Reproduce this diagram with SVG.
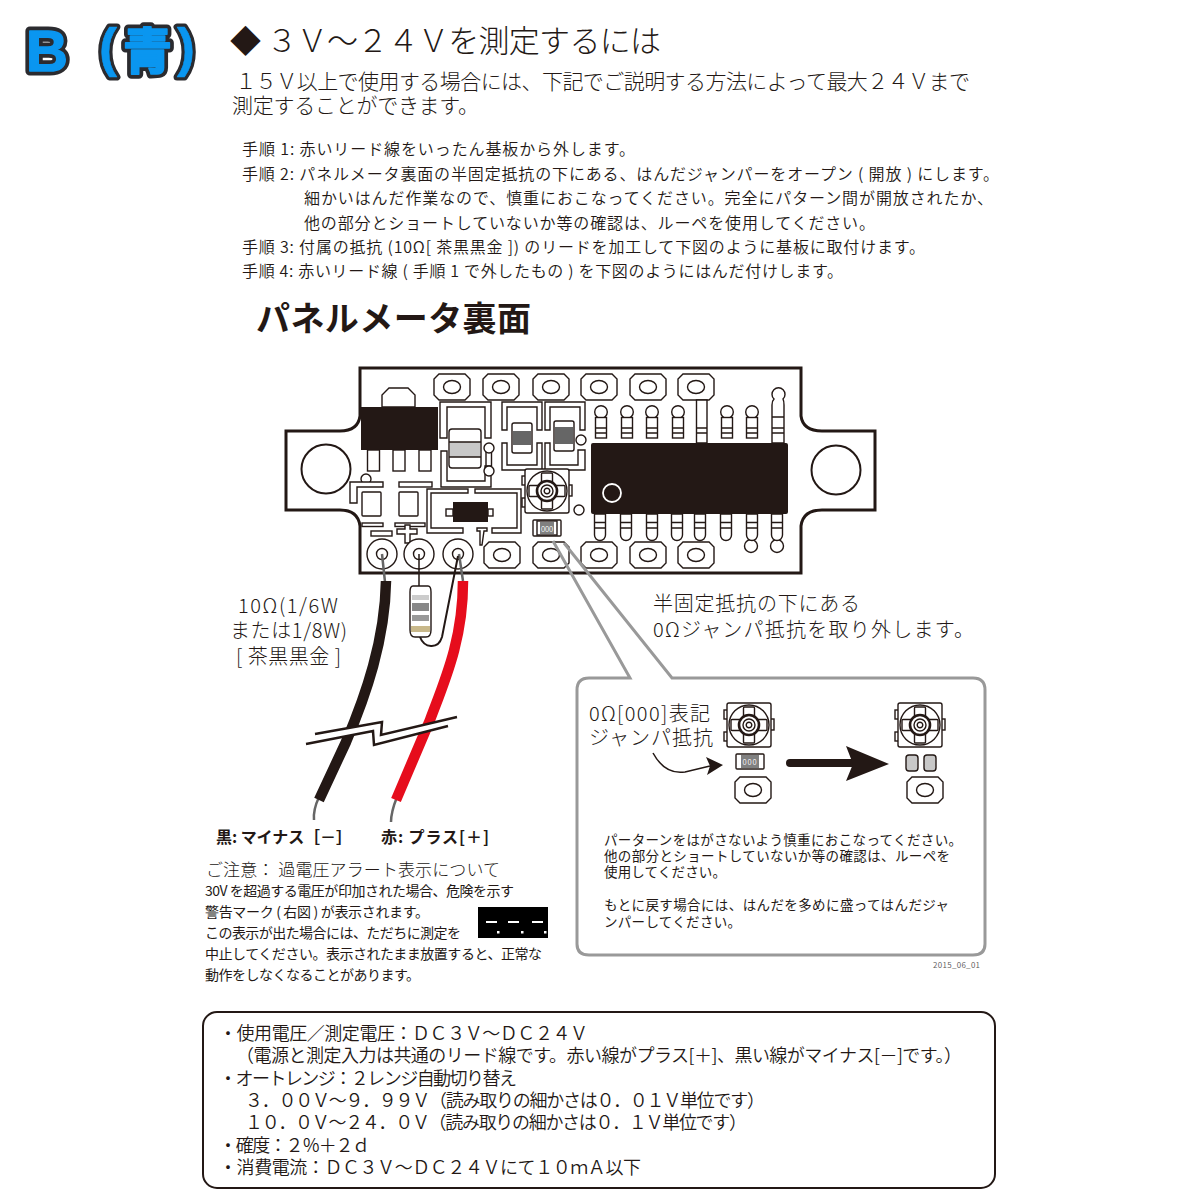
<svg xmlns="http://www.w3.org/2000/svg" xmlns:xlink="http://www.w3.org/1999/xlink" width="1200" height="1200" viewBox="0 0 1200 1200">
<style>
text{font-family:"Noto Sans CJK JP","Liberation Sans",sans-serif;fill:#231815;font-size:16px;font-weight:350}
.t{font-weight:300}
.o{fill:#fff;stroke:#231815;stroke-width:1.4}
.k{fill:#231815}
.b{font-weight:700}
.h{font-size:21px;font-weight:300}.m{font-size:20px;font-weight:300}.s{font-size:13.5px;font-weight:400}.n{font-size:14px;font-weight:400}.f{font-size:18px}
.bo{fill:#2b2b2f;stroke:#2b2b2f;stroke-linejoin:round;font-weight:900}
.bl{fill:#0a96f0;stroke:#0a96f0;stroke-width:1.6;stroke-linejoin:round;font-weight:900}
.la{font-family:"Liberation Sans",sans-serif}
</style>
<defs>
<g id="pad"><path class="o" d="M-13,-13H13L18,-8V8L13,13H-13L-18,8V-8Z"/><ellipse class="o" rx="8.5" ry="6.5"/></g>
<g id="tpin"><circle class="o" r="6.3"/><rect class="o" x="-5.5" y="5.500" width="11" height="20.500"/><path class="o" d="M-5.5,16H5.5M-5.5,21H5.5"/></g>
<g id="bpin"><path class="o" d="M-5.5,0H5.5V21A5.5,5.5 0 0 1 -5.5,21Z"/><path class="o" d="M-5.5,8.500H5.5M-5.5,14H5.5"/></g>
<g id="trim">
<rect class="o" x="-25" y="-15" width="4" height="9"/><rect class="o" x="-25" y="7" width="4" height="9"/><rect class="o" x="21" y="-6" width="4" height="11"/>
<rect class="o" x="-22" y="-22" width="44" height="44" rx="2"/>
<circle class="o" r="20"/>
<rect class="o" x="-5.500" y="-18" width="11" height="36" rx="1"/><rect class="o" x="-18" y="-5.500" width="36" height="11" rx="1"/>
<circle cx="0" cy="0" r="10" fill="#fff" stroke="#231815" stroke-width="2.600"/><circle class="o" r="6"/><circle class="o" r="2.800"/>
</g>
<g id="via"><circle class="o" r="5"/></g>
</defs>

<g id="badge">
<text class="bo la" x="26" y="71" style="font-size:58px;stroke-width:9">B</text>
<text class="bl la" x="26" y="71" style="font-size:58px">B</text>
<text class="bo la" x="99" y="66" style="font-size:54px;stroke-width:7">(</text>
<text class="bl la" x="99" y="66" style="font-size:54px;stroke-width:.5">(</text>
<text class="bo" x="123" y="69" style="font-size:49px;stroke-width:9">青</text>
<text class="bl" x="123" y="69" style="font-size:49px">青</text>
<text class="bo la" x="177" y="66" style="font-size:54px;stroke-width:7">)</text>
<text class="bl la" x="177" y="66" style="font-size:54px;stroke-width:.5">)</text>
</g>

<g id="intro">
<text class="t" x="230" y="52" style="font-size:31px" textLength="431">◆ ３Ｖ～２４Ｖを測定するには</text>
<text class="h" x="215" y="89" textLength="755">　１５Ｖ以上で使用する場合には、下記でご説明する方法によって最大２４Ｖまで</text>
<text class="h" x="232" y="113" textLength="247">測定することができます。</text>
<text x="242" y="155" textLength="393">手順 1: 赤いリード線をいったん基板から外します。</text>
<text x="242" y="180" textLength="757">手順 2: パネルメータ裏面の半固定抵抗の下にある、はんだジャンパーをオープン ( 開放 ) にします。</text>
<text x="304" y="204" textLength="689">細かいはんだ作業なので、慎重におこなってください。完全にパターン間が開放されたか、</text>
<text x="304" y="229" textLength="571">他の部分とショートしていないか等の確認は、ルーペを使用してください。</text>
<text x="242" y="253" textLength="683">手順 3: 付属の抵抗 (10Ω[ 茶黒黒金 ]) のリードを加工して下図のように基板に取付けます。</text>
<text x="242" y="277" textLength="601">手順 4: 赤いリード線 ( 手順 1 で外したもの ) を下図のようにはんだ付けします。</text>
<text class="b" x="256" y="331" style="font-size:34px" textLength="275">パネルメータ裏面</text>
</g>

<g id="board">
<path d="M360,368H801V416Q803,431 822,431H875V510H822Q803,510 801,526V573H360V526Q358,510 340,510H286V431H340Q358,431 360,416Z" fill="#fff" stroke="#231815" stroke-width="3"/>
<circle cx="326" cy="469" r="24.5" fill="#fff" stroke="#231815" stroke-width="2"/>
<circle cx="836" cy="470" r="24.5" fill="#fff" stroke="#231815" stroke-width="2"/>
<use xlink:href="#pad" x="452" y="387"/><use xlink:href="#pad" x="501" y="387"/><use xlink:href="#pad" x="551" y="387"/><use xlink:href="#pad" x="599" y="387"/><use xlink:href="#pad" x="648" y="387"/><use xlink:href="#pad" x="696" y="387"/>
<use xlink:href="#pad" x="502" y="555"/><use xlink:href="#pad" x="551" y="555"/><use xlink:href="#pad" x="599" y="555"/><use xlink:href="#pad" x="648" y="555"/><use xlink:href="#pad" x="696" y="555"/>
<path class="o" d="M382,407V395L389,388H408L415,395V407Z"/>
<rect class="k" x="361" y="407" width="77" height="43"/>
<rect class="o" x="367.500" y="450" width="12" height="21"/><rect class="o" x="393" y="450" width="12" height="21"/><rect class="o" x="419" y="450" width="12" height="21"/>
<path class="o" d="M440,402H491V438H485V407H447V438H440Z"/>
<path class="o" d="M441,451H447V481H485V466H491V487H441Z"/>
<rect class="o" x="449" y="429" width="32" height="39" rx="3"/>
<rect x="450" y="442" width="30" height="15" fill="#c8c8c8"/><path class="o" d="M449,442H481M449,457H481"/>
<path class="o" d="M486,452V468M491.500,452V468"/>
<use xlink:href="#via" x="489" y="448"/><use xlink:href="#via" x="489" y="471"/>
<path class="o" d="M502,402H542V430H537V407H507V430H502Z"/>
<path class="o" d="M502,443H507V465H537V443H542V470H502Z"/>
<path class="o" d="M545,402H585V430H580V407H550V430H545Z"/>
<path class="o" d="M545,443H550V465H578V450H585V470H545Z"/>
<rect class="o" x="512" y="423" width="20" height="30" rx="2"/><rect x="513" y="431" width="18" height="14" fill="#666"/>
<rect class="o" x="554" y="421" width="20" height="30" rx="2"/><rect x="555" y="427" width="18" height="17" fill="#666"/>
<use xlink:href="#via" x="581" y="440"/>
<use xlink:href="#trim" x="547" y="491"/>
<use xlink:href="#via" x="579" y="510"/>
<use xlink:href="#via" x="366" y="479"/>
<path class="o" d="M350,482H383V487H357V503H350Z"/>
<rect class="o" x="362" y="492" width="19" height="24" rx="1"/><rect class="o" x="399" y="492" width="19" height="24" rx="1"/>
<rect class="o" x="399" y="482" width="33" height="5"/>
<rect class="o" x="362" y="523" width="21" height="3.500"/><rect class="o" x="395" y="523" width="30" height="3.500"/>
<rect class="o" x="371" y="531" width="21" height="5"/>
<path class="o" d="M405,529V525H410V529H417V534H410V543H405V534H397V529Z"/>
<path class="o" d="M427,489H468V493H431V528H463V533H427Z"/>
<path class="o" d="M475,489H521V533H492V528H517V493H475Z"/>
<rect class="o" x="446" y="509" width="7" height="7"/><rect class="o" x="488" y="509" width="5" height="7"/>
<rect class="k" x="453" y="502" width="35" height="20"/>
<path class="o" d="M477,528H487V531H484L482,545L480,545L480,531H477Z"/>
<rect class="o" x="533" y="520" width="28" height="16" rx="1"/><rect class="o" x="537" y="521" width="20" height="14" fill="#888"/>
<rect x="540" y="522" width="14" height="12" fill="#808080"/><text x="541" y="531.500" style="font-size:7.500px;fill:#fff" textLength="12">000</text>
<use xlink:href="#tpin" x="601" y="412"/><use xlink:href="#tpin" x="627" y="412"/><use xlink:href="#tpin" x="652" y="412"/><use xlink:href="#tpin" x="678" y="412"/><use xlink:href="#tpin" x="727" y="412"/><use xlink:href="#tpin" x="752" y="412"/>
<path class="o" d="M696.500,400H707V443H696.500ZM696.500,428H707M696.500,433H707"/>
<path class="o" d="M772,417V405Q772,401 774,399A6.500,6.500 0 1 1 783,399Q784,401 784,405V417ZM772,417H784V443H772ZM772,428H784M772,433H784"/>
<rect class="k" x="591" y="443" width="197" height="71" rx="2"/>
<circle cx="612" cy="493" r="9" fill="#231815" stroke="#fff" stroke-width="1.800"/>
<circle class="o" cx="751" cy="546" r="6.500"/><circle class="o" cx="777" cy="546" r="6.500"/>
<use xlink:href="#bpin" x="600" y="514"/><use xlink:href="#bpin" x="626" y="514"/><use xlink:href="#bpin" x="652" y="514"/><use xlink:href="#bpin" x="677" y="514"/><use xlink:href="#bpin" x="700" y="514"/><use xlink:href="#bpin" x="726" y="514"/><use xlink:href="#bpin" x="752" y="514"/><use xlink:href="#bpin" x="777" y="514"/>
<circle class="o" cx="382" cy="554" r="15"/><circle class="o" cx="382" cy="554" r="5.500"/>
<circle class="o" cx="419" cy="554" r="15"/><circle class="o" cx="419" cy="554" r="5.500"/>
<circle class="o" cx="458" cy="554" r="15"/><circle class="o" cx="458" cy="554" r="5.500"/>
</g>

<g id="connectors" fill="none">
<path d="M382,554L385,582M463,581L459,554" stroke="#666" stroke-width="2.500"/>
<path d="M419,554V587" stroke="#231815" stroke-width="1.500"/>
<path d="M420,637C424,648 438,650 442,637L458,556" stroke="#231815" stroke-width="2"/>
<path d="M319,797Q313,810 314,820M397,797Q391,812 391,822" stroke="#666" stroke-width="2.500"/>
<path d="M386,581C385,640 366,695 346,742L319,800" stroke="#231815" stroke-width="10.500"/>
<path d="M463,581C463,640 445,680 430,720L396,800" stroke="#e60d1c" stroke-width="10.500"/>
</g>

<g id="resistor">
<path class="o" d="M413,586H428Q431,586 431,592V630Q431,637 426,637H415Q410,637 410,630V592Q410,586 413,586Z"/>
<rect x="412" y="595" width="17" height="5" fill="#ccc"/><rect x="412" y="603" width="17" height="8" fill="#888"/><rect x="412" y="615" width="17" height="6" fill="#999"/><rect x="411" y="626" width="19" height="6" fill="#c8b88a"/>
</g>

<g id="break">
<path d="M315,734L382,722L381,735L457,717L448,726L374,745L373,731L306,744Z" fill="#fff"/>
<path d="M315,734L382,722L381,735L457,717M306,744L373,731L374,745L448,726" fill="none" stroke="#231815" stroke-width="2.500"/>
</g>

<g id="callout">
<rect x="577" y="678" width="408" height="277" rx="12" fill="#fff"/>
<path d="M553,541L630,678H589Q577,678 577,690V944Q577,955 589,955H973Q985,955 985,944V690Q985,678 973,678H672L564,543" fill="none" stroke="#999" stroke-width="3"/>
</g>

<g id="jumper">
<use xlink:href="#trim" x="749" y="725"/><use xlink:href="#trim" x="920" y="725"/>
<rect class="o" x="736" y="754" width="28" height="15" rx="1"/><rect x="741" y="755" width="18" height="13" fill="#808080"/><text x="742.500" y="765" style="font-size:7.500px;fill:#fff" textLength="14">000</text>
<rect class="o" x="906" y="755" width="12" height="16" rx="3" style="fill:#c8c8c8"/><rect class="o" x="924" y="755" width="12" height="16" rx="3" style="fill:#c8c8c8"/>
<use xlink:href="#pad" x="753" y="790"/><use xlink:href="#pad" x="925" y="790"/>
<path d="M790,763H852" stroke="#231815" stroke-width="8" stroke-linecap="round"/>
<path class="k" d="M846,746L889,764L846,781L853,764Z"/>
<path d="M653,753Q665,775 685,772L710,766" fill="none" stroke="#231815" stroke-width="1.500"/>
<path class="k" d="M706,757L723,765L707,775L710,766Z"/>
</g>

<g id="labels">
<text class="m" x="238" y="613" textLength="100">10Ω(1/6W</text>
<text class="m" x="230" y="638" textLength="117">または1/8W)</text>
<text class="m" x="236" y="664" textLength="105">[ 茶黒黒金 ]</text>
<text class="m" x="653" y="611" textLength="207">半固定抵抗の下にある</text>
<text class="m" x="653" y="637" textLength="321">0Ωジャンパ抵抗を取り外します。</text>
<text class="m" x="589" y="721" textLength="121">0Ω[000]表記</text>
<text class="m" x="589" y="745" textLength="124">ジャンパ抵抗</text>
<text class="b" x="216" y="843" textLength="136">黒: マイナス［－］</text>
<text class="b" x="381" y="843" textLength="108">赤: プラス[＋]</text>
<text class="s" x="604" y="845" textLength="358">パーターンをはがさないよう慎重におこなってください。</text>
<text class="s" x="604" y="861" textLength="346">他の部分とショートしていないか等の確認は、ルーペを</text>
<text class="s" x="604" y="877" textLength="122">使用してください。</text>
<text class="s" x="604" y="910" textLength="345">もとに戻す場合には、はんだを多めに盛ってはんだジャ</text>
<text class="s" x="604" y="927" textLength="137">ンパーしてください。</text>
<text x="933" y="968" style="font-size:8px;fill:#555" textLength="47">2015_06_01</text>
</g>

<g id="caution">
<text class="t" x="206" y="876" style="font-size:17px" textLength="294">ご注意： 過電圧アラート表示について</text>
<text class="n" x="205" y="896" textLength="309">30V を超過する電圧が印加された場合、危険を示す</text>
<text class="n" x="205" y="917" textLength="224">警告マーク ( 右図 ) が表示されます。</text>
<text class="n" x="205" y="938" textLength="256">この表示が出た場合には、ただちに測定を</text>
<text class="n" x="205" y="959" textLength="337">中止してください。表示されたまま放置すると、正常な</text>
<text class="n" x="205" y="980" textLength="215">動作をしなくなることがあります。</text>
<rect x="478" y="907" width="70" height="31" fill="#000"/>
<path d="M486,922H497M508,922H519M532,922H543" stroke="#fff" stroke-width="2"/>
<path d="M497,931h2.500v2.500h-2.500zM521,931h2.500v2.500h-2.500zM544,931h2.500v2.500h-2.500z" fill="#fff"/>
</g>

<g id="spec">
<rect x="203" y="1012" width="792" height="176" rx="14" fill="#fff" stroke="#231815" stroke-width="2"/>
<text class="f" x="219" y="1040" textLength="369">・使用電圧／測定電圧：ＤＣ３Ｖ～ＤＣ２４Ｖ</text>
<text class="f" x="236" y="1062" textLength="726">（電源と測定入力は共通のリード線です。赤い線がプラス[＋]、黒い線がマイナス[－]です。）</text>
<text class="f" x="219" y="1085" textLength="298">・オートレンジ：２レンジ自動切り替え</text>
<text class="f" x="245" y="1107" textLength="520">３．００Ｖ～９．９９Ｖ（読み取りの細かさは０．０１Ｖ単位です）</text>
<text class="f" x="245" y="1129" textLength="502">１０．０Ｖ～２４．０Ｖ（読み取りの細かさは０．１Ｖ単位です）</text>
<text class="f" x="219" y="1152" textLength="151">・確度：２％＋２ｄ</text>
<text class="f" x="219" y="1174" textLength="422">・消費電流：ＤＣ３Ｖ～ＤＣ２４Ｖにて１０ｍＡ以下</text>
</g>
</svg>
